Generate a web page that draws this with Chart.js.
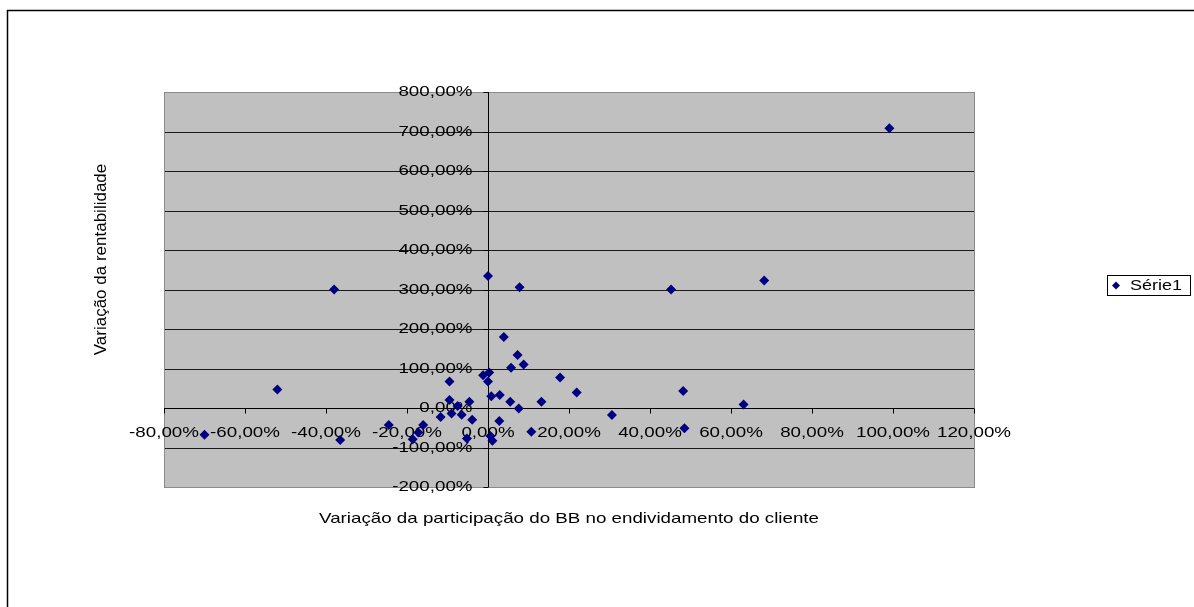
<!DOCTYPE html>
<html>
<head>
<meta charset="utf-8">
<title>Variação da rentabilidade</title>
<script src="https://cdn.jsdelivr.net/npm/chart.js@4/dist/chart.umd.min.js"></script>
<style>
  html, body { margin: 0; padding: 0; background: #ffffff; }
  #wrap { width: 1194px; height: 607px; }
  canvas { display: block; }
</style>
</head>
<body>
<div id="wrap"><canvas id="chart" width="1194" height="607"></canvas></div>
<script>
// Variação da participação do BB (x, %) vs. variação da rentabilidade (y, %)
const xValues = [
  -70, -52, -38, -36.5, -24.5, -18.6, -17.2, -16, -11.7, -9.5,
  -9.5, -9, -7.5, -6.5, -4.6, -5.2, -3.9, -1.2, 0.3, 0,
  0, 0.6, 1.1, 0.8, 2.9, 2.8, 3.9, 5.7, 5.5, 7.3,
  7.8, 7.6, 8.8, 10.7, 13.2, 17.8, 21.9, 30.6, 45.2, 48.2,
  48.5, 63.1, 68.2, 99.1
];
const yValues = [
  -68, 47, 300, -81, -43, -79, -62, -43, -23, 67,
  20, -14, 5, -17, 16, -77, -30, 83, 90, 67,
  334, -71, -83, 30, 33, -33, 180, 102, 16, 134,
  306, -1, 110, -60, 16, 77, 39, -18, 300, 43,
  -51, 9, 323, 708
];

const xTicks = [-80, -60, -40, -20, 0, 20, 40, 60, 80, 100, 120];
const xTickLabels = ['-80,00%', '-60,00%', '-40,00%', '-20,00%', '0,00%', '20,00%',
                     '40,00%', '60,00%', '80,00%', '100,00%', '120,00%'];
const yTicks = [-200, -100, 0, 100, 200, 300, 400, 500, 600, 700, 800];
const yTickLabels = ['-200,00%', '-100,00%', '0,00%', '100,00%', '200,00%', '300,00%',
                     '400,00%', '500,00%', '600,00%', '700,00%', '800,00%'];

const seriesName = 'Série1';
const xTitle = 'Variação da participação do BB no endividamento do cliente';
const yTitle = 'Variação da rentabilidade';

const points = xValues.map((x, i) => ({ x: x, y: yValues[i] }));

const FONT = "'Liberation Sans', Arial, sans-serif";
const MARK = '#000080';

// Horizontally widened text, as the old spreadsheet renderer drew it
function wideText(ctx, txt, x, y, size, sx, align, baseline) {
  ctx.save();
  ctx.translate(x, y);
  ctx.scale(sx, 1);
  ctx.font = size + 'px ' + FONT;
  ctx.textAlign = align;
  ctx.textBaseline = baseline;
  ctx.fillStyle = '#000';
  ctx.fillText(txt, 0, 0);
  ctx.restore();
}

const frame = {
  id: 'frame',
  beforeDatasetsDraw(chart) {
    const { ctx, chartArea: a, scales } = chart;
    const xs = scales.x, ys = scales.y;
    const x0 = Math.round(xs.getPixelForValue(0)) + 0.5;
    const y0 = Math.round(ys.getPixelForValue(0)) + 0.5;

    ctx.save();
    // plot background
    ctx.fillStyle = '#c0c0c0';
    ctx.fillRect(a.left, a.top, a.right - a.left, a.bottom - a.top);

    // horizontal gridlines
    ctx.strokeStyle = '#1a1a1a';
    ctx.lineWidth = 1;
    yTicks.forEach(v => {
      const y = Math.round(ys.getPixelForValue(v)) + 0.5;
      ctx.beginPath();
      ctx.moveTo(a.left, y);
      ctx.lineTo(a.right, y);
      ctx.stroke();
    });

    // plot border
    ctx.strokeStyle = '#8a8a8a';
    ctx.strokeRect(Math.round(a.left) + 0.5, Math.round(a.top) + 0.5,
                   Math.round(a.right - a.left), Math.round(a.bottom - a.top));

    // axes crossing at zero
    ctx.strokeStyle = '#000';
    ctx.beginPath();
    ctx.moveTo(a.left, y0); ctx.lineTo(a.right, y0);
    ctx.moveTo(x0, a.top); ctx.lineTo(x0, a.bottom);
    ctx.stroke();

    // tick marks
    ctx.beginPath();
    yTicks.forEach(v => {
      const y = Math.round(ys.getPixelForValue(v)) + 0.5;
      ctx.moveTo(x0 - 5, y); ctx.lineTo(x0, y);
    });
    xTicks.forEach(v => {
      const x = Math.round(xs.getPixelForValue(v)) + 0.5;
      ctx.moveTo(x, y0); ctx.lineTo(x, y0 + 5);
    });
    ctx.stroke();

    // tick labels
    yTicks.forEach((v, i) => {
      wideText(ctx, yTickLabels[i], x0 - 16, ys.getPixelForValue(v) + 0.5, 14, 1.34, 'right', 'middle');
    });
    xTicks.forEach((v, i) => {
      wideText(ctx, xTickLabels[i], xs.getPixelForValue(v), y0 + 25, 14, 1.34, 'center', 'middle');
    });
    ctx.restore();
  },
  afterDraw(chart) {
    const { ctx, chartArea: a } = chart;
    ctx.save();
    // axis titles
    wideText(ctx, xTitle, (a.left + a.right) / 2, 523, 15, 1.25, 'center', 'alphabetic');
    ctx.save();
    ctx.translate(106, 259.5);
    ctx.rotate(-Math.PI / 2);
    ctx.font = '17px ' + FONT;
    ctx.textAlign = 'center';
    ctx.textBaseline = 'alphabetic';
    ctx.fillStyle = '#000';
    ctx.fillText(yTitle, 0, 0);
    ctx.restore();

    // legend
    ctx.strokeStyle = '#000';
    ctx.lineWidth = 1;
    ctx.fillStyle = '#fff';
    ctx.fillRect(1107.5, 275.5, 83, 20);
    ctx.strokeRect(1107.5, 275.5, 83, 20);
    ctx.fillStyle = MARK;
    ctx.beginPath();
    ctx.moveTo(1116, 281.5); ctx.lineTo(1120, 285.5);
    ctx.lineTo(1116, 289.5); ctx.lineTo(1112, 285.5);
    ctx.closePath();
    ctx.fill();
    wideText(ctx, seriesName, 1130, 286, 15, 1.2, 'left', 'middle');

    // outer chart frame
    ctx.strokeStyle = '#000';
    ctx.lineWidth = 1.5;
    ctx.beginPath();
    ctx.moveTo(7.5, 607); ctx.lineTo(7.5, 10.5); ctx.lineTo(1194, 10.5);
    ctx.stroke();
    ctx.restore();
  }
};

new Chart(document.getElementById('chart'), {
  type: 'scatter',
  data: {
    datasets: [{
      label: seriesName,
      data: points,
      pointStyle: 'rectRot',
      pointRadius: 5,
      pointHoverRadius: 5,
      borderWidth: 0,
      backgroundColor: MARK,
      borderColor: MARK
    }]
  },
  options: {
    responsive: false,
    animation: false,
    devicePixelRatio: 1,
    events: [],
    layout: { padding: { left: 164, top: 92, right: 220, bottom: 120 } },
    plugins: { legend: { display: false }, tooltip: { enabled: false } },
    scales: {
      x: { type: 'linear', min: -80, max: 120, display: false },
      y: { type: 'linear', min: -200, max: 800, display: false }
    }
  },
  plugins: [frame]
});
</script>
</body>
</html>
